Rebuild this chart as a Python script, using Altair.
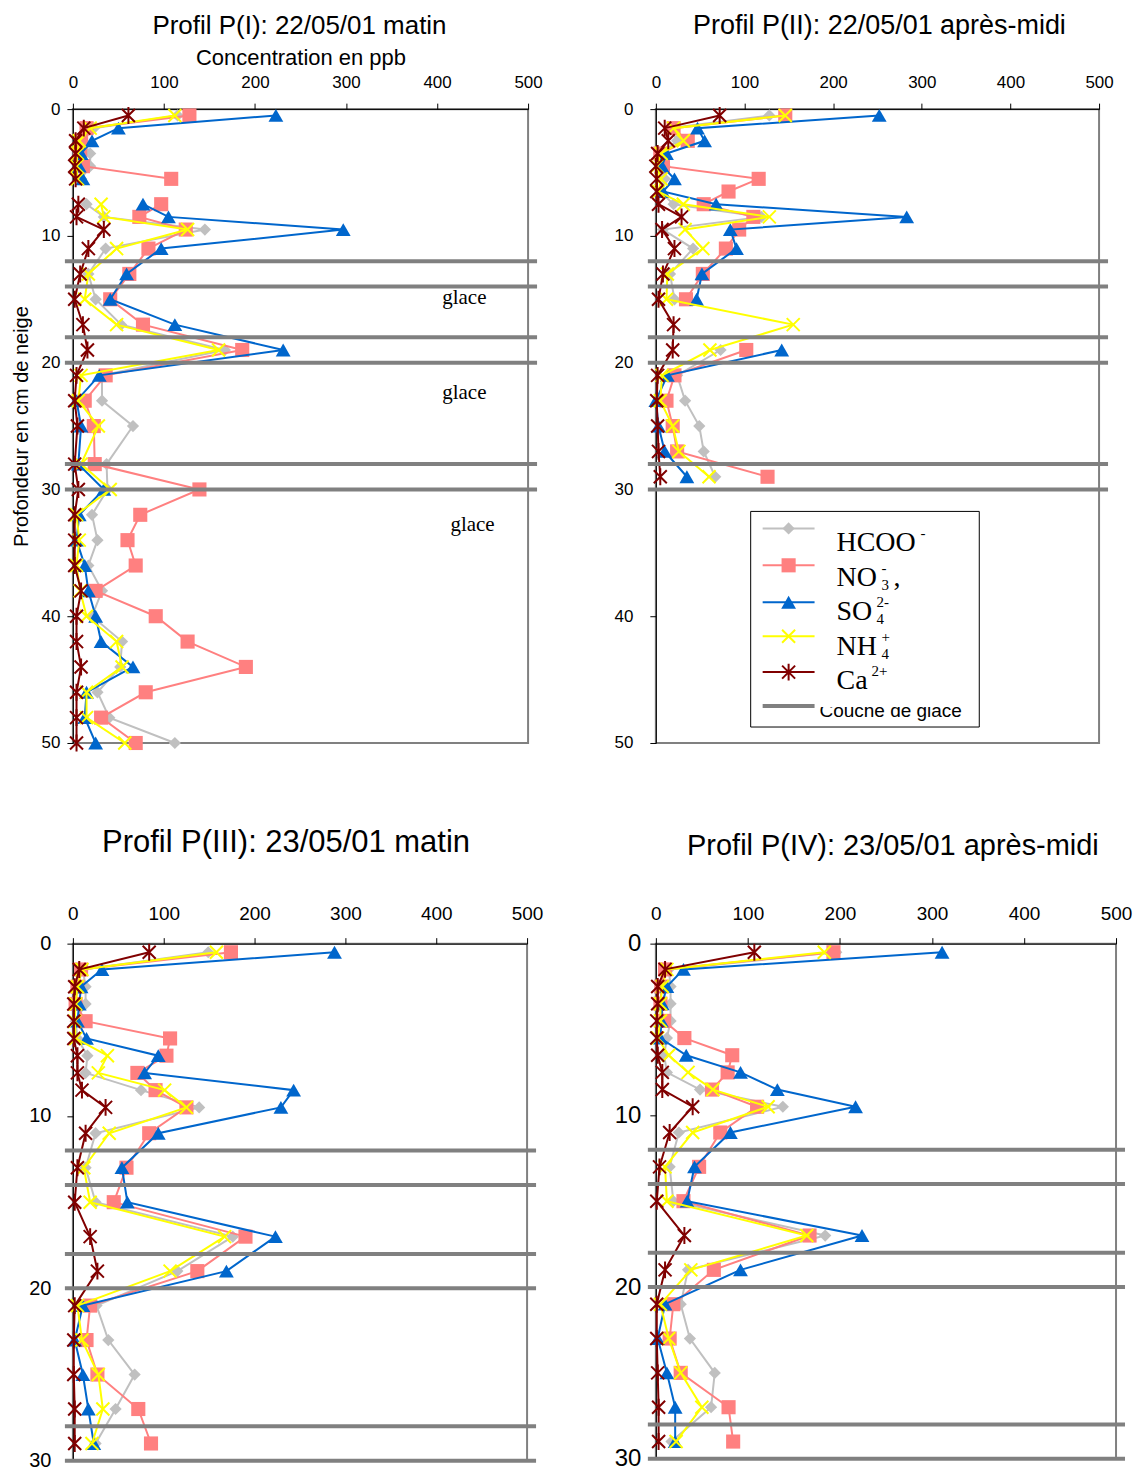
import altair as alt
import pandas as pd

# ---------------- data ----------------
SPECIES = ["HCOO", "NO3", "SO4", "NH4", "Ca"]
COLORS = ["#C0C0C0", "#FF8080", "#0066CC", "#FFFF00", "#800000"]
ICE = [12, 14, 18, 20, 28, 30]
X_TICKS = [0, 100, 200, 300, 400, 500]

# Profil P(I) : 22/05/01 matin  (6.5 cm missing -> gap)
depth_I = [0.5, 1.5, 2.5, 3.5, 4.5, 5.5, 6.5, 7.5, 8.5, 9.5, 11, 13, 15, 17, 19,
           21, 23, 25, 28, 30, 32, 34, 36, 38, 40, 42, 44, 46, 48, 50]
hcoo_I = [115, 23, 11, 19, 19, 9, None, 15, 34, 145, 36, 17, 25, 53, 167,
          32, 32, 66, 37, 38, 21, 27, 17, 32, 21, 54, 52, 27, 40, 112]
no3_I = [128, 15, 9, 8, 11, 108, None, 97, 73, 124, 83, 62, 41, 77, 186,
         36, 13, 23, 24, 139, 74, 60, 69, 25, 91, 126, 190, 80, 31, 69]
so4_I = [223, 50, 21, 9, 7, 11, None, 77, 105, 297, 97, 59, 41, 112, 231,
         29, 4, 9, 6, 34, 7, 4, 13, 17, 25, 31, 66, 15, 13, 25]
nh4_I = [112, 19, 7, 5, 4, 5, None, 31, 34, 126, 48, 17, 13, 48, 160,
         9, 6, 28, 9, 41, 4, 7, 4, 8, 15, 48, 54, 15, 15, 57]
ca_I = [61, 12, 3, 3, 2, 3, None, 6, 4, 34, 17, 8, 2, 11, 16,
        4, 2, 5, 2, 6, 2, 2, 2, 9, 4, 4, 9, 4, 4, 4]

# Profil P(II) : 22/05/01 apres-midi
depth_II = [0.5, 1.5, 2.5, 3.5, 4.5, 5.5, 6.5, 7.5, 8.5, 9.5, 11, 13, 15, 17, 19,
            21, 23, 25, 27, 29]
hcoo_II = [128, 16, 24, 7, 10, 10, 5, 20, 119, 8, 42, 16, 21, None, 73, 24, 33, 49, 54, 67]
no3_II = [146, 20, 36, 5, 8, 116, 82, 54, 110, 94, 79, 53, 34, None, 102, 21, 12, 19, 24, 126]
so4_II = [252, 47, 55, 12, 7, 21, 8, 68, 283, 84, 91, 52, 46, None, 142, 13, 0, 3, 10, 35]
nh4_II = [146, 20, 31, 6, 1, 6, 3, 31, 128, 33, 53, 13, 12, 155, 61, 7, 5, 19, 26, 60]
ca_II = [72, 10, 14, 2, 0, 1, 1, 3, 29, 7, 21, 8, 3, 20, 19, 2, 1, 2, 3, 5]

# Profil P(III) : 23/05/01 matin
depth_III = [0.5, 1.5, 2.5, 3.5, 4.5, 5.5, 6.5, 7.5, 8.5, 9.5, 11, 13, 15, 17, 19,
             21, 23, 25, 27, 29]
hcoo_III = [149, 11, 14, 14, 3, 5, 16, 14, 75, 139, 25, 14, 25, 176, 115, 26, 39, 68, 47, 25]
no3_III = [174, 9, 5, 3, 14, 107, 103, 71, 91, 125, 84, 59, 45, 190, 137, 19, 15, 27, 72, 86]
so4_III = [288, 32, 9, 7, 5, 15, 94, 79, 243, 229, 94, 54, 60, 223, 169, 11, 2, 11, 17, 23]
nh4_III = [158, 10, 5, 3, 2, 3, 38, 28, 101, 125, 40, 12, 19, 167, 107, 5, 10, 28, 33, 21]
ca_III = [84, 7, 2, 1, 1, 1, 5, 5, 10, 36, 14, 5, 2, 19, 27, 2, 1, 1, 2, 2]

# Profil P(IV) : 23/05/01 apres-midi
depth_IV = [0.5, 1.5, 2.5, 3.5, 4.5, 5.5, 6.5, 7.5, 8.5, 9.5, 11, 13, 15, 17, 19,
            21, 23, 25, 27, 29]
hcoo_IV = [196, 14, 16, 16, 16, 12, 9, 12, 48, 138, 25, 15, 19, 184, 35, 27, 37, 64, 60, 17]
no3_IV = [193, 10, 6, 5, 9, 31, 83, 78, 61, 110, 70, 47, 30, 167, 63, 19, 15, 27, 79, 84]
so4_IV = [311, 30, 12, 7, 6, 5, 33, 92, 132, 217, 81, 42, 34, 224, 92, 10, 2, 12, 21, 21]
nh4_IV = [183, 12, 7, 5, 5, 2, 14, 35, 62, 122, 40, 10, 12, 164, 38, 5, 14, 27, 50, 22]
ca_IV = [107, 10, 2, 2, 1, 1, 2, 7, 7, 40, 15, 4, 1, 31, 10, 1, 1, 2, 3, 3]

# "glace" annotations in panel I
glace_x = [430, 430, 439]
glace_depth = [14.9, 22.4, 32.8]
glace_text = ["glace", "glace", "glace"]

# legend texts
LEG_MAIN = ["HCOO", "NO", "SO", "NH", "Ca"]
LEG_SUB = ["", "3", "4", "4", ""]
LEG_SUP = ["-", "-", "2-", "+", "2+"]
LEG_TAIL = ["", ",", "", "", ""]
LEG_ICE = "Couche de glace"

# ---------------- styling ----------------
X_PATH = "M-1,-1L1,1M-1,1L1,-1"
STAR_PATH = "M-1,-1L1,1M-1,1L1,-1M0,-1.3L0,1.3"
MARKS = [
    dict(shape="diamond", filled=True, size=150),
    dict(shape="square", filled=True, size=200),
    dict(shape="triangle-up", filled=True, size=220),
    dict(shape=X_PATH, filled=False, size=170, strokeWidth=2),
    dict(shape=STAR_PATH, filled=False, size=170, strokeWidth=2),
]
SANS = "Liberation Sans"
SERIF = "Liberation Serif"
ONE = alt.Data(values=[{"k": 0}])


def long_df(depths, series):
    rows = []
    for name, vals in zip(SPECIES, series):
        seg = 0
        for d, v in zip(depths, vals):
            if v is None:
                seg += 1
                continue
            rows.append({"species": name, "depth": d, "value": v, "seg": seg})
    return pd.DataFrame(rows)


def panel(depths, series, ymax, W, H, title, xaxis, yaxis, glace=False, extra=()):
    df = long_df(depths, series)
    xenc = alt.X("value:Q", scale=alt.Scale(domain=[0, 500], nice=False, zero=False), axis=xaxis)
    yenc = alt.Y("depth:Q", scale=alt.Scale(domain=[0, ymax], reverse=True, nice=False, zero=False),
                 axis=yaxis)
    layers = []
    for name, color, mk in zip(SPECIES, COLORS, MARKS):
        d = df[df["species"] == name]
        layers.append(alt.Chart(d).mark_line(color=color, strokeWidth=2).encode(
            x=xenc, y=yenc, detail="seg:N", order="depth:Q"))
        layers.append(alt.Chart(d).mark_point(color=color, opacity=1, **mk).encode(x=xenc, y=yenc))
    ice = pd.DataFrame({"depth": ICE})
    layers.append(alt.Chart(ice).mark_rule(color="#808080", strokeWidth=4).encode(
        y=yenc, x=alt.value(-8), x2=alt.value(W + 9)))
    if glace:
        g = pd.DataFrame({"value": glace_x, "depth": glace_depth, "label": glace_text})
        layers.append(alt.Chart(g).mark_text(font=SERIF, fontSize=21, color="black").encode(
            x=xenc, y=yenc, text="label:N"))
    layers.extend(extra)
    return alt.layer(*layers).properties(width=W, height=H, title=title)


def xaxis(size, pad, title=None):
    kw = dict(orient="top", values=X_TICKS, grid=False, labelFontSize=size, labelPadding=pad,
              tickSize=6, labelFlush=False)
    if title:
        return alt.Axis(title=title, titleFontSize=22, titlePadding=4, **kw)
    return alt.Axis(title=None, **kw)


def yaxis(vals, size, pad, title=None):
    kw = dict(orient="left", values=vals, grid=False, labelFontSize=size, labelPadding=pad,
              tickSize=6, labelFlush=False)
    if title:
        return alt.Axis(title=title, titleFontSize=20, titlePadding=10, **kw)
    return alt.Axis(title=None, **kw)


def ttl(text, size, offset, dx=0):
    return alt.TitleParams(text=text, fontSize=size, offset=offset, anchor="middle", dx=dx,
                           font=SANS, fontWeight="normal", color="black")


# ---------------- legend (inside panel II, pixel offsets from its plot corner) ----------------
def lg_text(txt, x, y, size, font=SERIF):
    return alt.Chart(ONE).mark_text(text=txt, align="left", baseline="alphabetic", font=font,
                                    fontSize=size, color="black").encode(
        x=alt.value(x), y=alt.value(y))


legend = [alt.Chart(ONE).mark_rect(fill="white", stroke="black", strokeWidth=1).encode(
    x=alt.value(95), x2=alt.value(324), y=alt.value(403), y2=alt.value(619))]
mark_y = [420, 457, 494, 528, 564]
base_y = [443, 477.5, 512, 546.5, 581]
sub_x = [265, 226, 221, 226, 216]
for i, (color, mk) in enumerate(zip(COLORS, MARKS)):
    legend.append(alt.Chart(ONE).mark_rule(color=color, strokeWidth=2).encode(
        x=alt.value(107), x2=alt.value(159), y=alt.value(mark_y[i])))
    legend.append(alt.Chart(ONE).mark_point(color=color, opacity=1, **mk).encode(
        x=alt.value(133), y=alt.value(mark_y[i])))
    legend.append(lg_text(LEG_MAIN[i], 181, base_y[i], 28))
    if LEG_SUB[i]:
        legend.append(lg_text(LEG_SUB[i], sub_x[i], base_y[i] + 4, 15))
    if LEG_SUP[i]:
        legend.append(lg_text(LEG_SUP[i], sub_x[i], base_y[i] - 13, 15))
    if LEG_TAIL[i]:
        legend.append(lg_text(LEG_TAIL[i], sub_x[i] + 12, base_y[i], 28))
legend.append(alt.Chart(ONE).mark_rule(color="#808080", strokeWidth=4).encode(
    x=alt.value(107), x2=alt.value(159), y=alt.value(598)))
legend.append(lg_text(LEG_ICE, 164, 609, 19, SANS))
legend.append(alt.Chart(ONE).mark_rect(fill="white").encode(
    x=alt.value(162), x2=alt.value(322), y=alt.value(588), y2=alt.value(599)))

# ---------------- panels ----------------
p1 = panel(depth_I, [hcoo_I, no3_I, so4_I, nh4_I, ca_I], 50, 456, 635,
           ttl("Profil P(I): 22/05/01 matin", 26, 7, -1),
           xaxis(17, 12, "Concentration en ppb"),
           yaxis([0, 10, 20, 30, 40, 50], 17, 7, "Profondeur en cm de neige"),
           glace=True)
p2 = panel(depth_II, [hcoo_II, no3_II, so4_II, nh4_II, ca_II], 50, 444, 635,
           ttl("Profil P(II): 22/05/01 après-midi", 27, 33, 2),
           xaxis(17, 12),
           yaxis([0, 10, 20, 30, 40, 50], 17, 17),
           extra=legend)
p3 = panel(depth_III, [hcoo_III, no3_III, so4_III, nh4_III, ca_III], 30, 455, 518,
           ttl("Profil P(III): 23/05/01 matin", 31, 46, -14),
           xaxis(19, 14),
           yaxis([0, 10, 20, 30], 20, 16))
p4 = panel(depth_IV, [hcoo_IV, no3_IV, so4_IV, nh4_IV, ca_IV], 30, 461, 516,
           ttl("Profil P(IV): 23/05/01 après-midi", 29, 44, 7),
           xaxis(19, 14),
           yaxis([0, 10, 20, 30], 24, 9))

chart = alt.concat(
    p1, p2, p3, p4, columns=2, bounds="flush",
    spacing={"row": 201, "column": 128},
).properties(
    padding={"left": 2, "top": 2, "right": 0, "bottom": 0}
).configure_axis(
    labelFont=SANS, titleFont=SANS, labelColor="black", titleColor="black",
    domainColor="black", tickColor="black", titleFontWeight="normal", domainWidth=1, tickWidth=1
).configure_view(
    stroke="#808080", strokeWidth=2
)

chart.save("out.html", embed_options={"renderer": "svg", "actions": False})
